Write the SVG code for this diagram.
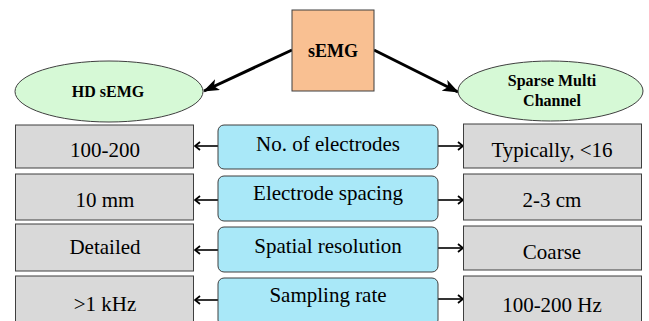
<svg xmlns="http://www.w3.org/2000/svg" width="649" height="321" viewBox="0 0 649 321" font-family="Liberation Serif, DejaVu Serif, serif">
  <style>
    text { fill: #000; text-anchor: middle; }
    .val { font-size: 21px; }
    .hdr { font-size: 16px; font-weight: bold; }
    .cell { fill: #D9D9D9; stroke: #3F3F3F; stroke-width: 1; }
    .prop { fill: #A9E8F8; stroke: #3F3F3F; stroke-width: 1; }
    .ell { fill: #D6F9D6; stroke: #3F3F3F; stroke-width: 1; }
    .thin { stroke: #000; stroke-width: 1.6; fill: none; marker-end: url(#chev); }
    .thick { stroke: #000; stroke-width: 3; fill: none; marker-end: url(#tri); }
  </style>
  <defs>
    <marker id="chev" markerUnits="userSpaceOnUse" viewBox="0 0 10 10" refX="9" refY="5" markerWidth="10" markerHeight="10" orient="auto">
      <path d="M4,1 L9,5 L4,9" fill="none" stroke="#000" stroke-width="1.8"/>
    </marker>
    <marker id="tri" markerUnits="userSpaceOnUse" viewBox="0 0 16 12" refX="15" refY="6" markerWidth="16" markerHeight="12" orient="auto">
      <path d="M0,0 L16,6 L0,12 L4,6 Z" fill="#000"/>
    </marker>
  </defs>

  <!-- connectors -->
  <g id="connectors">
    <line class="thick" x1="292" y1="50" x2="204" y2="91"/>
    <line class="thick" x1="374" y1="50" x2="458" y2="92"/>
    <line class="thin" x1="218" y1="146" x2="195" y2="146"/>
    <line class="thin" x1="438" y1="146" x2="463" y2="146"/>
    <line class="thin" x1="218" y1="200" x2="195" y2="200"/>
    <line class="thin" x1="438" y1="200" x2="463" y2="200"/>
    <line class="thin" x1="218" y1="250" x2="195" y2="250"/>
    <line class="thin" x1="438" y1="248" x2="463" y2="248"/>
    <line class="thin" x1="218" y1="300" x2="195" y2="300"/>
    <line class="thin" x1="438" y1="299" x2="463" y2="299"/>
  </g>

  <!-- root -->
  <g id="semg">
    <rect x="292" y="10" width="82" height="81" fill="#F9C092" stroke="#3F3F3F" stroke-width="1"/>
    <text x="333" y="57" font-family="Liberation Serif, serif" font-size="18" font-weight="bold">sEMG</text>
  </g>

  <!-- categories -->
  <g id="hd-semg">
    <ellipse class="ell" cx="109" cy="91.5" rx="94" ry="30.5"/>
    <text class="hdr" x="108" y="97" font-family="Liberation Serif, serif">HD sEMG</text>
  </g>
  <g id="sparse-multi-channel">
    <ellipse class="ell" cx="550.5" cy="91" rx="92.5" ry="30"/>
    <text class="hdr" x="552" y="86" font-family="Liberation Serif, serif">Sparse Multi</text>
    <text class="hdr" x="552" y="106" font-family="Liberation Serif, serif">Channel</text>
  </g>

  <!-- row: number of electrodes -->
  <g id="hd-electrodes">
    <rect class="cell" x="15.5" y="125" width="178" height="43"/>
    <text class="val" x="105" y="157" font-family="Liberation Serif, serif">100-200</text>
  </g>
  <g id="no-of-electrodes">
    <rect class="prop" x="218" y="125" width="220" height="44" rx="6"/>
    <text class="val" x="328" y="151" font-family="Liberation Serif, serif">No. of electrodes</text>
  </g>
  <g id="sparse-electrodes">
    <rect class="cell" x="463.5" y="124" width="178" height="44"/>
    <text class="val" x="552" y="157" font-family="Liberation Serif, serif">Typically, &lt;16</text>
  </g>

  <!-- row: electrode spacing -->
  <g id="hd-spacing">
    <rect class="cell" x="15.5" y="174" width="178" height="46"/>
    <text class="val" x="105" y="207" font-family="Liberation Serif, serif">10 mm</text>
  </g>
  <g id="electrode-spacing">
    <rect class="prop" x="218" y="176" width="220" height="45" rx="6"/>
    <text class="val" x="328" y="200" font-family="Liberation Serif, serif">Electrode spacing</text>
  </g>
  <g id="sparse-spacing">
    <rect class="cell" x="463.5" y="174" width="178" height="46"/>
    <text class="val" x="552" y="207" font-family="Liberation Serif, serif">2-3 cm</text>
  </g>

  <!-- row: spatial resolution -->
  <g id="hd-resolution">
    <rect class="cell" x="15.5" y="224" width="178" height="47"/>
    <text class="val" x="105" y="254" font-family="Liberation Serif, serif">Detailed</text>
  </g>
  <g id="spatial-resolution">
    <rect class="prop" x="218" y="227" width="220" height="45" rx="6"/>
    <text class="val" x="328" y="253" font-family="Liberation Serif, serif">Spatial resolution</text>
  </g>
  <g id="sparse-resolution">
    <rect class="cell" x="463.5" y="226" width="178" height="44"/>
    <text class="val" x="552" y="259" font-family="Liberation Serif, serif">Coarse</text>
  </g>

  <!-- row: sampling rate -->
  <g id="hd-sampling">
    <rect class="cell" x="15.5" y="276" width="178" height="50"/>
    <text class="val" x="105" y="311" font-family="Liberation Serif, serif">&gt;1 kHz</text>
  </g>
  <g id="sampling-rate">
    <rect class="prop" x="218" y="278" width="220" height="48" rx="6"/>
    <text class="val" x="328" y="302" font-family="Liberation Serif, serif">Sampling rate</text>
  </g>
  <g id="sparse-sampling">
    <rect class="cell" x="463.5" y="276" width="178" height="50"/>
    <text class="val" x="552" y="312" font-family="Liberation Serif, serif">100-200 Hz</text>
  </g>
</svg>
